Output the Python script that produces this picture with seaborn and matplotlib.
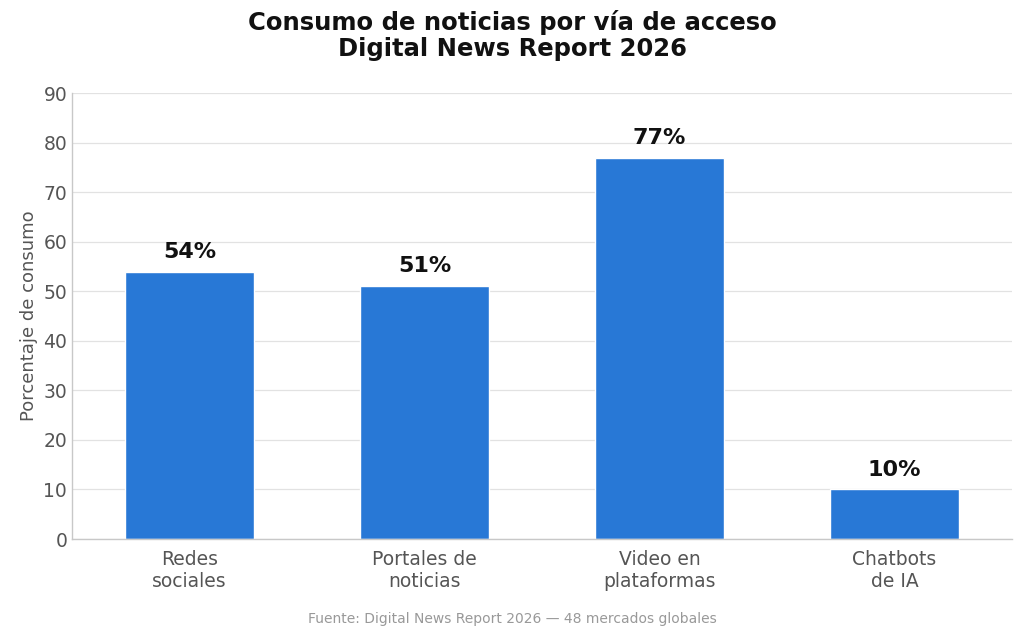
import matplotlib
matplotlib.use("Agg")
import matplotlib.pyplot as plt
import seaborn as sns
import pandas as pd

categories = ["Redes\nsociales", "Portales de\nnoticias", "Video en\nplataformas", "Chatbots\nde IA"]
values = [54, 51, 77, 10]

sns.set_theme(style="whitegrid")
plt.rcParams['font.family'] = ['DejaVu Sans']

df = pd.DataFrame({"via": categories, "pct": values})

fig = plt.figure(figsize=(10.24, 6.36), dpi=100)
ax = fig.add_axes([0.0703, 0.1525, 0.918, 0.701])
sns.barplot(data=df, x="via", y="pct", color="#2878d6", saturation=1, width=0.55, ax=ax)

for i, v in enumerate(values):
    ax.text(i, v + 2, f"{v}%", ha="center", va="bottom", fontsize=16, fontweight="bold", color="#111111")

ax.set_ylim(0, 90)
ax.set_yticks(range(0, 91, 10))
ax.set_xlabel("")
ax.set_ylabel("Porcentaje de consumo", fontsize=13, color="#555555")
ax.tick_params(axis="both", labelsize=13.5, colors="#555555", length=0)
ax.tick_params(axis="x", pad=8)
ax.grid(axis="x", visible=False)
ax.grid(axis="y", color="#e2e2e2", linewidth=0.9)
ax.set_facecolor("white")
for s in ["top", "right"]:
    ax.spines[s].set_visible(False)
for s in ["left", "bottom"]:
    ax.spines[s].set_color("#c8c8c8")
    ax.spines[s].set_linewidth(1)

fig.suptitle("Consumo de noticias por vía de acceso\nDigital News Report 2026",
             fontsize=17.5, fontweight="bold", y=0.985, color="#111111", linespacing=1.15)
fig.text(0.5, 0.02, "Fuente: Digital News Report 2026 — 48 mercados globales",
         ha="center", fontsize=10, color="#999999")

fig.savefig("out.png", dpi=100, facecolor="white")
